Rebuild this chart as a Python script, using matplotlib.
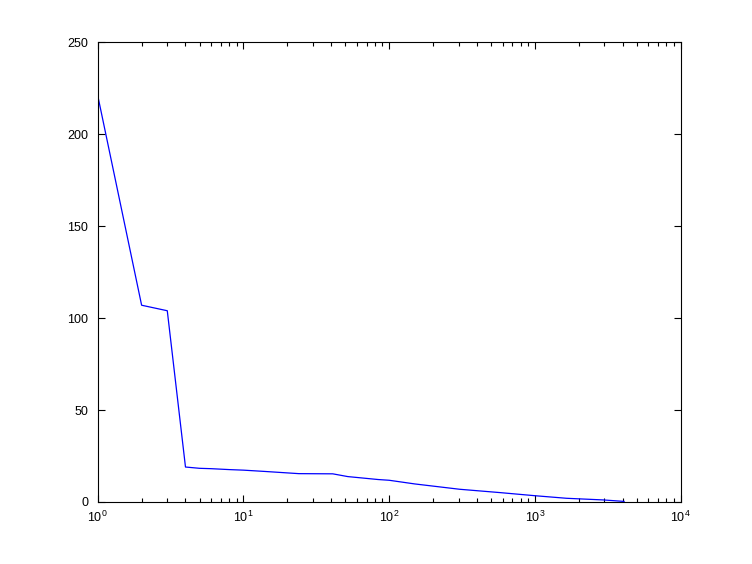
import matplotlib
matplotlib.use('Agg')
import matplotlib.pyplot as plt
import numpy as np

# values
rank = [1, 2, 3, 4, 5, 6, 8, 10, 14, 24, 41, 52, 84, 100, 150, 305, 575, 1000, 1650, 2950, 4096]
value = [221, 107, 104, 19, 18.3, 18.1, 17.6, 17.3, 16.6, 15.4, 15.3, 13.8, 12.2, 11.8,
         9.8, 6.9, 5.1, 3.4, 2.0, 1.1, 0.3]
yticks = [0, 50, 100, 150, 200, 250]

plt.rcParams['font.family'] = ['Liberation Sans', 'DejaVu Sans']
plt.rcParams['font.size'] = 9
plt.rcParams['mathtext.fontset'] = 'custom'
plt.rcParams['mathtext.rm'] = 'Liberation Sans'

fig = plt.figure(figsize=(7.52, 5.64), dpi=100)
ax = fig.add_axes([0.13, 0.11, 0.775, 0.815])
ax.plot(rank, value, color=(0, 0, 1), lw=0.9)
ax.set_xscale('log')
ax.set_xlim(1, 1e4)
ax.set_ylim(0, 250)
ax.set_yticks(yticks)
ax.tick_params(which='both', direction='in', top=True, right=True, width=0.8)
ax.tick_params(which='major', length=5)
ax.tick_params(which='minor', length=3)
ax.tick_params(axis='y', pad=7)
ax.tick_params(axis='x', pad=6)
for s in ax.spines.values():
    s.set_linewidth(0.8)

fig.savefig('out.png', dpi=100)
